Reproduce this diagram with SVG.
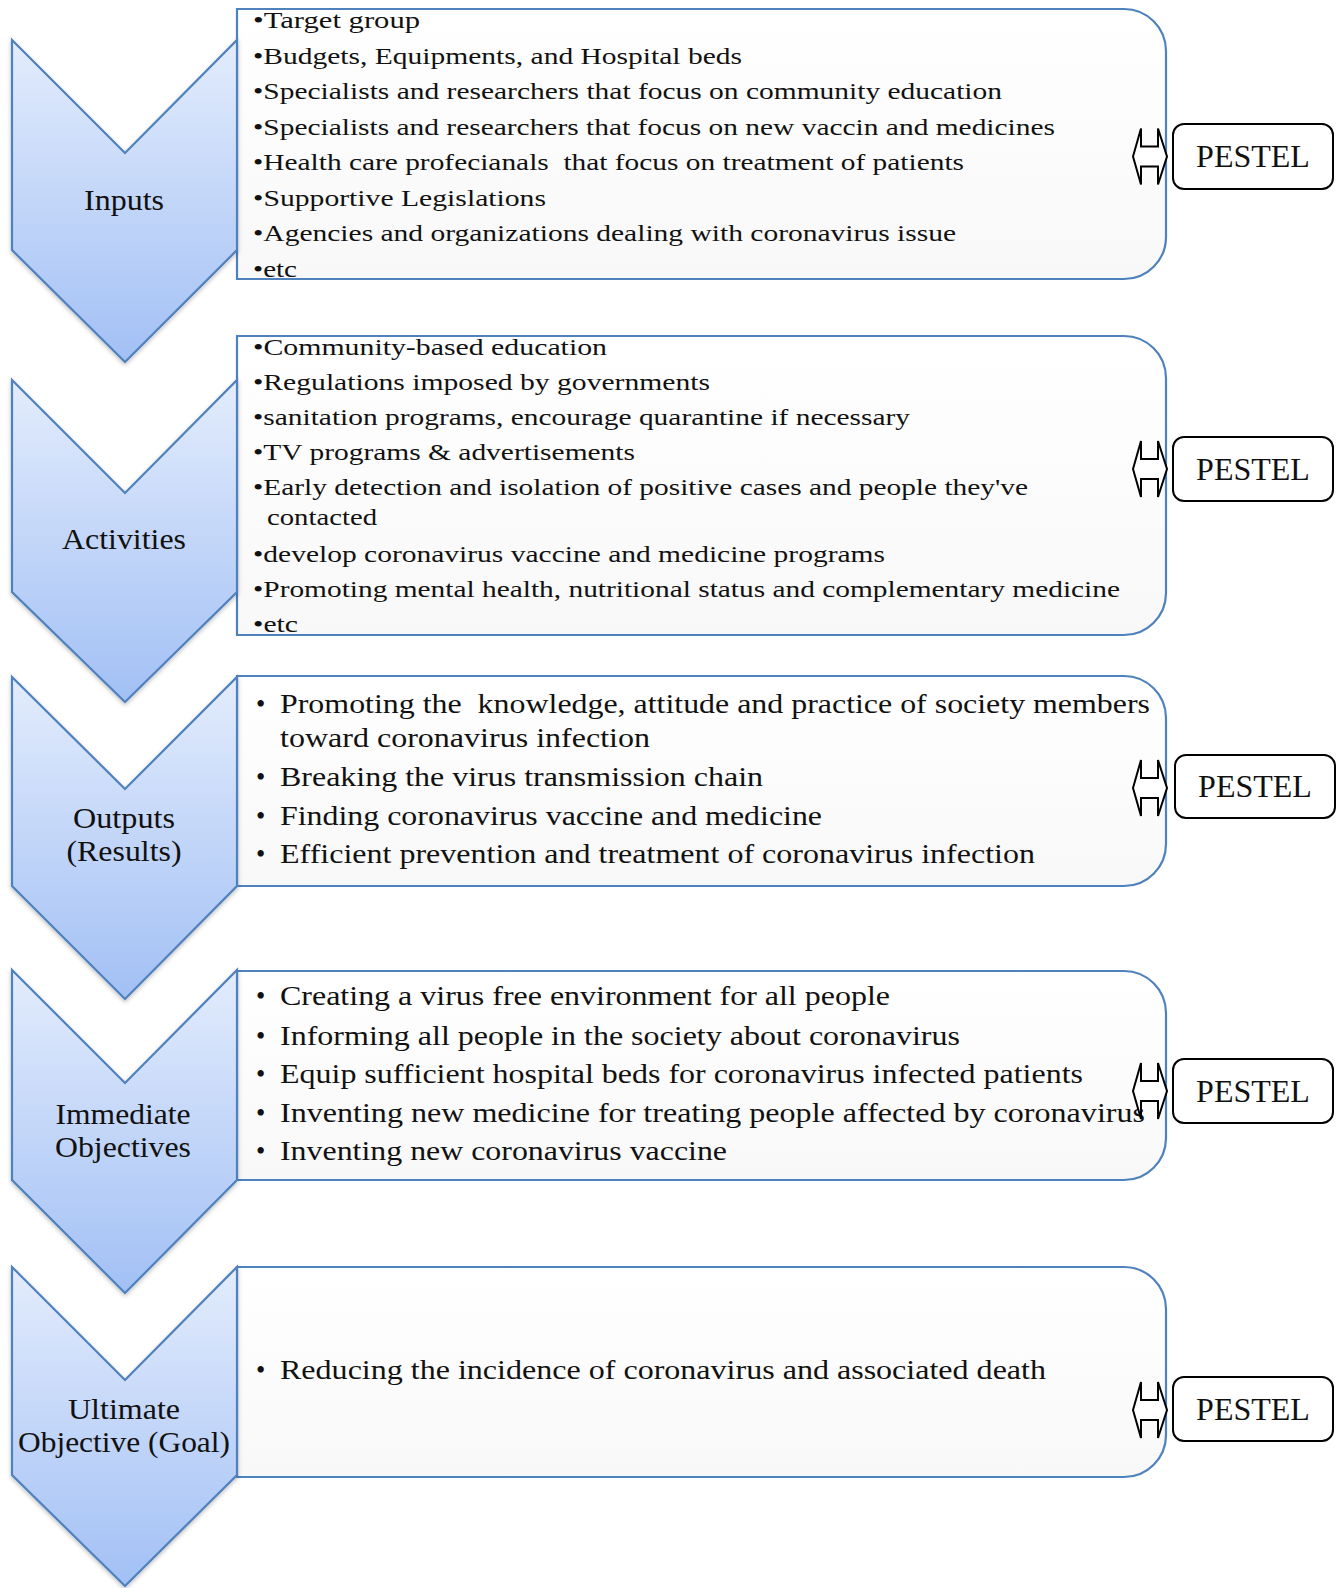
<svg xmlns="http://www.w3.org/2000/svg" width="1342" height="1588" viewBox="0 0 1342 1588">
<style>
text{font-family:"Liberation Serif","Times New Roman",serif;fill:#111;white-space:pre}
.s{font-size:23.5px}
.m{font-size:26.5px}
.lab{font-size:30px;text-anchor:middle}
.pt{font-size:32px;text-anchor:middle}
.chev{fill:url(#cg);stroke:#4f81bd;stroke-width:2.2;filter:url(#sh)}
.box{fill:url(#bg);stroke:#4f81bd;stroke-width:2.2}
.pb{fill:#fff;stroke:#000;stroke-width:2}
.dar{fill:#fff;stroke:#000;stroke-width:2;stroke-linejoin:miter}
</style>
<defs>
<linearGradient id="cg" x1="0" y1="0" x2="0" y2="1">
<stop offset="0" stop-color="#e3ecfc"/>
<stop offset="1" stop-color="#a2c0f5"/>
</linearGradient>
<linearGradient id="bg" x1="0" y1="0" x2="0" y2="1">
<stop offset="0" stop-color="#ffffff"/>
<stop offset="1" stop-color="#f8f8f8"/>
</linearGradient>
<filter id="sh" x="-10%" y="-10%" width="120%" height="120%">
<feDropShadow dx="0" dy="2" stdDeviation="2" flood-color="#000" flood-opacity="0.25"/>
</filter>
</defs>

<g id="box-inputs">
<path class="box" d="M237,9 H1124 A42,42 0 0 1 1166,51 V237 A42,42 0 0 1 1124,279 H237 Z"/>
<text class="s" x="253" y="28" textLength="167" lengthAdjust="spacingAndGlyphs">•Target group</text>
<text class="s" x="253" y="63.5" textLength="489" lengthAdjust="spacingAndGlyphs">•Budgets, Equipments, and Hospital beds</text>
<text class="s" x="253" y="99" textLength="749" lengthAdjust="spacingAndGlyphs">•Specialists and researchers that focus on community education</text>
<text class="s" x="253" y="134.5" textLength="802" lengthAdjust="spacingAndGlyphs">•Specialists and researchers that focus on new vaccin and medicines</text>
<text class="s" x="253" y="170" textLength="711" lengthAdjust="spacingAndGlyphs">•Health care profecianals  that focus on treatment of patients</text>
<text class="s" x="253" y="205.5" textLength="293" lengthAdjust="spacingAndGlyphs">•Supportive Legislations</text>
<text class="s" x="253" y="241" textLength="703" lengthAdjust="spacingAndGlyphs">•Agencies and organizations dealing with coronavirus issue</text>
<text class="s" x="253" y="276.5" textLength="44" lengthAdjust="spacingAndGlyphs">•etc</text>
</g>

<g id="box-activities">
<path class="box" d="M237,336 H1124 A42,42 0 0 1 1166,378 V593 A42,42 0 0 1 1124,635 H237 Z"/>
<text class="s" x="253" y="355" textLength="354" lengthAdjust="spacingAndGlyphs">•Community-based education</text>
<text class="s" x="253" y="390" textLength="457" lengthAdjust="spacingAndGlyphs">•Regulations imposed by governments</text>
<text class="s" x="253" y="425" textLength="657" lengthAdjust="spacingAndGlyphs">•sanitation programs, encourage quarantine if necessary</text>
<text class="s" x="253" y="460" textLength="382" lengthAdjust="spacingAndGlyphs">•TV programs &amp; advertisements</text>
<text class="s" x="253" y="495" textLength="775" lengthAdjust="spacingAndGlyphs">•Early detection and isolation of positive cases and people they've</text>
<text class="s" x="267" y="525" textLength="110" lengthAdjust="spacingAndGlyphs">contacted</text>
<text class="s" x="253" y="562" textLength="632" lengthAdjust="spacingAndGlyphs">•develop coronavirus vaccine and medicine programs</text>
<text class="s" x="253" y="597" textLength="867" lengthAdjust="spacingAndGlyphs">•Promoting mental health, nutritional status and complementary medicine</text>
<text class="s" x="253" y="632" textLength="45" lengthAdjust="spacingAndGlyphs">•etc</text>
</g>

<g id="box-outputs">
<path class="box" d="M237,676 H1124 A42,42 0 0 1 1166,718 V844 A42,42 0 0 1 1124,886 H237 Z"/>
<text class="m" x="256" y="713">•</text>
<text class="m" x="280" y="713" textLength="870" lengthAdjust="spacingAndGlyphs">Promoting the  knowledge, attitude and practice of society members</text>
<text class="m" x="280" y="747" textLength="370" lengthAdjust="spacingAndGlyphs">toward coronavirus infection</text>
<text class="m" x="256" y="786">•</text>
<text class="m" x="280" y="786" textLength="483" lengthAdjust="spacingAndGlyphs">Breaking the virus transmission chain</text>
<text class="m" x="256" y="825">•</text>
<text class="m" x="280" y="825" textLength="542" lengthAdjust="spacingAndGlyphs">Finding coronavirus vaccine and medicine</text>
<text class="m" x="256" y="863">•</text>
<text class="m" x="280" y="863" textLength="755" lengthAdjust="spacingAndGlyphs">Efficient prevention and treatment of coronavirus infection</text>
</g>

<g id="box-immediate">
<path class="box" d="M237,971 H1124 A42,42 0 0 1 1166,1013 V1138 A42,42 0 0 1 1124,1180 H237 Z"/>
<text class="m" x="256" y="1005">•</text>
<text class="m" x="280" y="1005" textLength="610" lengthAdjust="spacingAndGlyphs">Creating a virus free environment for all people</text>
<text class="m" x="256" y="1045">•</text>
<text class="m" x="280" y="1045" textLength="680" lengthAdjust="spacingAndGlyphs">Informing all people in the society about coronavirus</text>
<text class="m" x="256" y="1083">•</text>
<text class="m" x="280" y="1083" textLength="803" lengthAdjust="spacingAndGlyphs">Equip sufficient hospital beds for coronavirus infected patients</text>
<text class="m" x="256" y="1122">•</text>
<text class="m" x="280" y="1122" textLength="865" lengthAdjust="spacingAndGlyphs">Inventing new medicine for treating people affected by coronavirus</text>
<text class="m" x="256" y="1160">•</text>
<text class="m" x="280" y="1160" textLength="447" lengthAdjust="spacingAndGlyphs">Inventing new coronavirus vaccine</text>
</g>

<g id="box-ultimate">
<path class="box" d="M237,1267 H1124 A42,42 0 0 1 1166,1309 V1435 A42,42 0 0 1 1124,1477 H237 Z"/>
<text class="m" x="256" y="1379">•</text>
<text class="m" x="280" y="1379" textLength="766" lengthAdjust="spacingAndGlyphs">Reducing the incidence of coronavirus and associated death</text>
</g>

<g id="chev-inputs">
<path class="chev" d="M12,40 L125,153 L237,40 V250 L125,362 L12,250 Z"/>
<text class="lab" x="124" y="210" textLength="80" lengthAdjust="spacingAndGlyphs">Inputs</text>
</g>
<g id="chev-activities">
<path class="chev" d="M12,380 L125,493 L237,380 V592 L125,702 L12,592 Z"/>
<text class="lab" x="124" y="549" textLength="124" lengthAdjust="spacingAndGlyphs">Activities</text>
</g>
<g id="chev-outputs">
<path class="chev" d="M12,677 L125,789 L237,677 V886 L125,999 L12,886 Z"/>
<text class="lab" x="124" y="828" textLength="102" lengthAdjust="spacingAndGlyphs">Outputs</text>
<text class="lab" x="124" y="861" textLength="115" lengthAdjust="spacingAndGlyphs">(Results)</text>
</g>
<g id="chev-immediate">
<path class="chev" d="M12,970 L125,1083 L237,970 V1180 L125,1293 L12,1180 Z"/>
<text class="lab" x="123" y="1124" textLength="135" lengthAdjust="spacingAndGlyphs">Immediate</text>
<text class="lab" x="123" y="1157" textLength="136" lengthAdjust="spacingAndGlyphs">Objectives</text>
</g>
<g id="chev-ultimate">
<path class="chev" d="M12,1267 L125,1380 L237,1267 V1475 L125,1586 L12,1475 Z"/>
<text class="lab" x="124" y="1419" textLength="112" lengthAdjust="spacingAndGlyphs">Ultimate</text>
<text class="lab" x="124" y="1452" textLength="212" lengthAdjust="spacingAndGlyphs">Objective (Goal)</text>
</g>

<g id="pestel-1">
<rect class="pb" x="1173" y="124" width="160" height="65" rx="11"/>
<text class="pt" x="1253" y="167">PESTEL</text>
</g>
<g id="pestel-2">
<rect class="pb" x="1173" y="437" width="160" height="64" rx="11"/>
<text class="pt" x="1253" y="480">PESTEL</text>
</g>
<g id="pestel-3">
<rect class="pb" x="1175" y="755" width="160" height="63" rx="11"/>
<text class="pt" x="1255" y="797">PESTEL</text>
</g>
<g id="pestel-4">
<rect class="pb" x="1173" y="1059" width="160" height="64" rx="11"/>
<text class="pt" x="1253" y="1102">PESTEL</text>
</g>
<g id="pestel-5">
<rect class="pb" x="1173" y="1377" width="160" height="64" rx="11"/>
<text class="pt" x="1253" y="1420">PESTEL</text>
</g>

<g id="connectors">
<path class="dar" d="M1133,156.5 L1141,128.5 V146.5 H1158 V128.5 L1167,156.5 L1158,184.5 V166.5 H1141 V184.5 Z"/>
<path class="dar" d="M1133,469 L1141,441 V459 H1158 V441 L1167,469 L1158,497 V479 H1141 V497 Z"/>
<path class="dar" d="M1133,788 L1141,760 V778 H1158 V760 L1167,788 L1158,816 V798 H1141 V816 Z"/>
<path class="dar" d="M1133,1091 L1141,1063 V1081 H1158 V1063 L1167,1091 L1158,1119 V1101 H1141 V1119 Z"/>
<path class="dar" d="M1133,1410 L1141,1382 V1400 H1158 V1382 L1167,1410 L1158,1438 V1420 H1141 V1438 Z"/>
</g>
</svg>
